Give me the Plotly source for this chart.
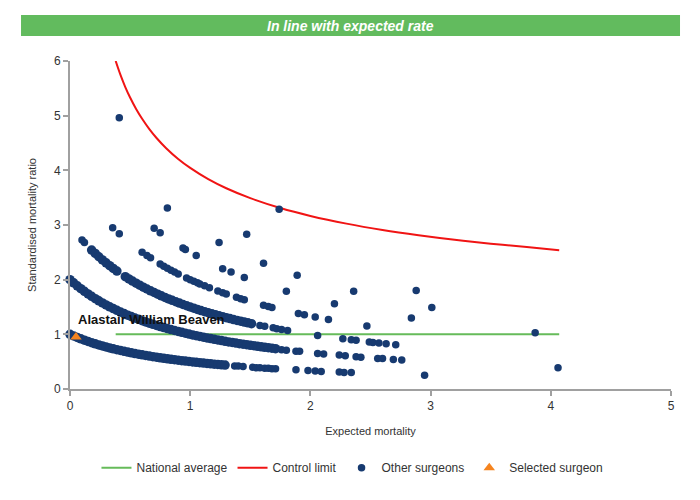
import plotly.graph_objects as go

# funnel plot data: expected mortality (x) vs standardised mortality ratio (y)

# dense runs of surgeons (they merge into solid bands)
band1_x = [0.00, 0.03, 0.06, 0.09, 0.12, 0.15, 0.18, 0.21, 0.24, 0.27, 0.30, 0.33, 0.36, 0.39, 0.42,
           0.45, 0.48, 0.51, 0.54, 0.57, 0.60, 0.63, 0.66, 0.69, 0.72, 0.75, 0.78, 0.81, 0.84, 0.87,
           0.90, 0.93, 0.96, 0.99, 1.02, 1.05, 1.08, 1.11, 1.14, 1.17, 1.20, 1.23, 1.26, 1.29]
band1_y = [1.000, 0.971, 0.943, 0.917, 0.893, 0.870, 0.847, 0.826, 0.806, 0.787, 0.769, 0.752, 0.735,
           0.719, 0.704, 0.690, 0.676, 0.662, 0.649, 0.637, 0.625, 0.613, 0.602, 0.592, 0.581, 0.571,
           0.562, 0.552, 0.543, 0.535, 0.526, 0.518, 0.510, 0.503, 0.495, 0.488, 0.481, 0.474, 0.467,
           0.461, 0.455, 0.448, 0.442, 0.437]

band2_x = [0.00, 0.03, 0.06, 0.09, 0.12, 0.15, 0.18, 0.21, 0.24, 0.27, 0.30, 0.33, 0.36, 0.39, 0.42,
           0.45, 0.48, 0.51, 0.54, 0.57, 0.60, 0.63, 0.66, 0.69, 0.72, 0.75, 0.78, 0.81, 0.84, 0.87,
           0.90, 0.93, 0.96, 0.99, 1.02, 1.05, 1.08, 1.11, 1.14, 1.17, 1.20, 1.23, 1.26, 1.29, 1.32,
           1.35, 1.38, 1.41, 1.44, 1.47, 1.50, 1.53, 1.56, 1.59, 1.62, 1.65, 1.68, 1.71]
band2_y = [2.000, 1.942, 1.887, 1.835, 1.786, 1.739, 1.695, 1.653, 1.613, 1.575, 1.538, 1.504, 1.471,
           1.439, 1.408, 1.379, 1.351, 1.325, 1.299, 1.274, 1.250, 1.227, 1.205, 1.183, 1.163, 1.143,
           1.124, 1.105, 1.087, 1.070, 1.053, 1.036, 1.020, 1.005, 0.990, 0.976, 0.962, 0.948, 0.935,
           0.922, 0.909, 0.897, 0.885, 0.873, 0.862, 0.851, 0.840, 0.830, 0.820, 0.810, 0.800, 0.791,
           0.781, 0.772, 0.763, 0.755, 0.746, 0.738]

band3_x = [0.18, 0.21, 0.24, 0.27, 0.30, 0.33, 0.36, 0.39,
           0.46, 0.49, 0.52, 0.55, 0.58, 0.61, 0.64, 0.67, 0.70, 0.73, 0.76, 0.79, 0.82, 0.85, 0.88,
           0.91, 0.94, 0.97, 1.00, 1.03, 1.06, 1.09, 1.12, 1.15, 1.18, 1.21, 1.24, 1.27, 1.30, 1.33,
           1.36, 1.39, 1.42, 1.45, 1.48, 1.51]
band3_y = [2.542, 2.479, 2.419, 2.362, 2.308, 2.256, 2.206, 2.158,
           2.055, 2.013, 1.974, 1.935, 1.899, 1.863, 1.829, 1.796, 1.765, 1.734, 1.705, 1.676, 1.648,
           1.622, 1.596, 1.571, 1.546, 1.523, 1.500, 1.478, 1.456, 1.435, 1.415, 1.395, 1.376, 1.357,
           1.339, 1.322, 1.304, 1.288, 1.271, 1.255, 1.240, 1.224, 1.210, 1.195]

# separate, individually visible surgeons
single_x = [1.37, 1.40, 1.44, 1.52, 1.55, 1.58, 1.62, 1.65, 1.68, 1.71, 1.88, 1.98, 2.04, 2.09,
            2.24, 2.28, 2.34, 2.95,
            1.76, 1.80, 1.88, 1.91, 2.06, 2.11, 2.24, 2.29, 2.38, 2.42, 2.56, 2.60, 2.69, 2.76, 4.06,
            0.10, 0.12, 1.58, 1.62, 1.69, 1.72, 1.76, 1.81, 2.06, 2.27, 2.34, 2.38, 2.49, 2.52, 2.57,
            2.63, 2.71,
            0.355, 0.41, 0.60, 0.64, 0.67, 0.75, 0.78, 0.81, 0.84, 0.87, 0.90, 0.97, 1.00, 1.03,
            1.06, 1.08, 1.12, 1.16, 1.23, 1.27, 1.30, 1.385, 1.42, 1.45, 1.61, 1.65, 1.68, 1.90,
            1.95, 2.04, 2.15, 2.47,
            0.70, 0.75, 0.94, 0.96, 1.05, 1.27, 1.34, 1.45, 1.80, 2.20, 2.84, 3.87,
            0.81, 1.24, 1.61, 1.89, 2.36, 3.01,
            0.41, 1.47, 2.88, 1.74]
single_y = [0.42, 0.42, 0.41, 0.40, 0.39, 0.39, 0.38, 0.38, 0.37, 0.37, 0.35, 0.34, 0.33, 0.32,
            0.31, 0.30, 0.30, 0.25,
            0.72, 0.71, 0.69, 0.69, 0.65, 0.64, 0.62, 0.61, 0.59, 0.58, 0.56, 0.56, 0.54, 0.53, 0.39,
            2.727, 2.679, 1.16, 1.15, 1.12, 1.10, 1.09, 1.07, 0.98, 0.92, 0.90, 0.89, 0.86, 0.85, 0.84,
            0.83, 0.81,
            2.95, 2.84, 2.50, 2.44, 2.40, 2.286, 2.247, 2.210, 2.174, 2.139, 2.105, 2.030, 2.000,
            1.970, 1.942, 1.923, 1.887, 1.852, 1.794, 1.762, 1.739, 1.677, 1.653, 1.633, 1.533,
            1.509, 1.493, 1.379, 1.356, 1.316, 1.270, 1.153,
            2.94, 2.86, 2.58, 2.55, 2.44, 2.20, 2.14, 2.04, 1.79, 1.56, 1.30, 1.03,
            3.31, 2.68, 2.30, 2.08, 1.79, 1.49,
            4.96, 2.83, 1.80, 3.29]

# control limit (upper funnel)
control_x = [0.38, 0.42, 0.46, 0.50, 0.55, 0.60, 0.66, 0.72, 0.80, 0.90, 1.00, 1.15, 1.30, 1.50,
             1.75, 2.00, 2.30, 2.60, 2.90, 3.20, 3.50, 3.80, 4.07]
control_y = [6.00, 5.745, 5.524, 5.332, 5.123, 4.943, 4.755, 4.592, 4.405, 4.208, 4.044, 3.839,
             3.672, 3.491, 3.310, 3.166, 3.025, 2.909, 2.813, 2.730, 2.659, 2.596, 2.540]

national_x = [0.38, 4.07]
national_y = [1, 1]

selected_name = "Alastair William Beaven"
selected_x = [0.05]
selected_y = [0.95]

font = "Liberation Sans, Arial, sans-serif"
navy = "#173A70"

fig = go.Figure()

fig.add_trace(go.Scatter(
    x=national_x, y=national_y, mode="lines", name="National average",
    line=dict(color="#66BB5A", width=2), hoverinfo="skip"
))
fig.add_trace(go.Scatter(
    x=control_x, y=control_y, mode="lines", name="Control limit",
    line=dict(color="#F01414", width=2, shape="spline"), hoverinfo="skip"
))
fig.add_trace(go.Scatter(
    x=band1_x + band2_x + band3_x, y=band1_y + band2_y + band3_y,
    mode="markers", name="Other surgeons", legendgroup="others", showlegend=False,
    marker=dict(color=navy, size=9.5), cliponaxis=False
))
fig.add_trace(go.Scatter(
    x=single_x, y=single_y, mode="markers", name="Other surgeons", legendgroup="others",
    marker=dict(color=navy, size=7.5), cliponaxis=False
))
fig.add_trace(go.Scatter(
    x=selected_x, y=selected_y, mode="markers", name="Selected surgeon",
    marker=dict(color="#F5841F", size=10, symbol="triangle-up"), cliponaxis=False
))

fig.add_annotation(
    x=selected_x[0], y=selected_y[0], text="<b>" + selected_name + "</b>",
    showarrow=False, xanchor="left", yanchor="bottom", xshift=0, yshift=8,
    font=dict(family=font, size=13, color="#111111")
)

# green status banner
fig.add_shape(
    type="rect", xref="paper", yref="paper",
    x0=-0.0815, x1=1.015, y0=1.076, y1=1.140,
    fillcolor="#62BB5E", line=dict(width=0), layer="below"
)
fig.add_annotation(
    xref="paper", yref="paper", x=0.466, y=1.108, xanchor="center", yanchor="middle",
    showarrow=False, text="<b><i>In line with expected rate</i></b>",
    font=dict(family="Liberation Sans Narrow, " + font, size=14, color="white")
)

axis_style = dict(
    showgrid=False, zeroline=False, showline=True, linecolor="#A0A0A0", linewidth=2,
    ticks="outside", ticklen=5, tickcolor="#A0A0A0", tickwidth=2,
    tickfont=dict(family=font, size=12, color="#333333"),
)

# the page body adds an 8px offset, so the canvas is trimmed by that much
fig.update_layout(
    width=692, height=492,
    paper_bgcolor="white", plot_bgcolor="white",
    margin=dict(l=62, r=29, t=53, b=111),
    xaxis=dict(range=[0, 5], dtick=1,
               title=dict(text="Expected mortality", font=dict(family=font, size=11, color="#333333")),
               **axis_style),
    yaxis=dict(range=[0, 6], dtick=1,
               title=dict(text="Standardised mortality ratio", font=dict(family=font, size=11, color="#333333")),
               **axis_style),
    legend=dict(orientation="h", x=0.47, xanchor="center", y=-0.24, yanchor="middle",
                font=dict(family=font, size=12, color="#333333"), itemwidth=30),
    showlegend=True,
)

fig.write_html("out.html")
